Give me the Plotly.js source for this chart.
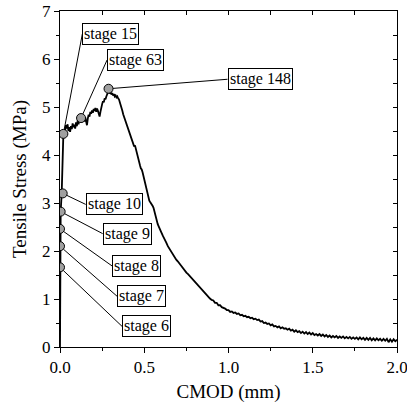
<!DOCTYPE html>
<html>
<head>
<meta charset="utf-8">
<script src="https://cdn.plot.ly/plotly-3.0.1.min.js"></script>
<style>html,body{margin:0;padding:0;background:#fff;}#chart{width:407px;height:404px;}</style>
</head>
<body>
<div id="chart"></div>
<script>
// ---- data ----
const cmod = [
 0,0.001,0.001,0.001,0.002,0.004,0.010,0.014,0.016,0.018,0.020,
 0.025,0.030,0.035,0.040,0.045,0.050,0.055,0.060,0.065,0.070,0.075,0.080,0.085,0.090,0.095,
 0.100,0.105,0.110,0.115,0.120,0.125,0.130,0.135,0.140,0.145,0.150,0.155,0.160,0.165,0.170,
 0.175,0.180,0.185,0.190,0.195,0.200,0.205,0.210,0.215,0.220,0.225,0.230,0.235,0.240,0.245,
 0.250,0.255,0.260,0.265,0.270,0.275,0.280,0.285,0.290,0.295,0.300,0.305,0.310,0.315,0.320,
 0.325,0.330,0.335,0.340,0.345,0.350,0.355,0.360,0.365,0.370,0.375,0.380,0.385,0.390,0.395,
 0.400,0.405,0.410,0.415,0.420,0.425,0.430,0.435,0.440,0.445,0.450,0.455,0.460,0.465,0.470,
 0.475,0.480,0.485,0.490,0.495,0.500,0.505,0.510,0.515,0.520,0.525,0.530,0.535,0.540,0.545,
 0.550,0.555,0.560,0.565,0.570,0.575,0.580,0.585,0.590,0.595,0.600,0.610,0.620,0.630,0.640,
 0.650,0.660,0.670,0.680,0.690,0.700,0.710,0.720,0.730,0.740,0.750,0.760,0.770,0.780,0.790,
 0.800,0.810,0.820,0.830,0.840,0.850,0.860,0.870,0.880,0.890,
 0.90,0.91,0.92,0.93,0.94,0.95,0.96,0.97,0.98,0.99,
 1.00,1.01,1.02,1.03,1.04,1.05,1.06,1.07,1.08,1.09,
 1.10,1.11,1.12,1.13,1.14,1.15,1.16,1.17,1.18,1.19,
 1.20,1.21,1.22,1.23,1.24,1.25,1.26,1.27,1.28,1.29,
 1.30,1.31,1.32,1.33,1.34,1.35,1.36,1.37,1.38,1.39,
 1.40,1.41,1.42,1.43,1.44,1.45,1.46,1.47,1.48,1.49,
 1.50,1.51,1.52,1.53,1.54,1.55,1.56,1.57,1.58,1.59,
 1.60,1.61,1.62,1.63,1.64,1.65,1.66,1.67,1.68,1.69,
 1.70,1.71,1.72,1.73,1.74,1.75,1.76,1.77,1.78,1.79,
 1.80,1.81,1.82,1.83,1.84,1.85,1.86,1.87,1.88,1.89,
 1.90,1.91,1.92,1.93,1.94,1.95,1.96,1.97,1.98,1.99,2.00
];
const stress = [
 0,1.00,1.66,2.10,2.46,2.82,3.20,3.60,4.10,4.30,4.44,
 4.38,4.52,4.62,4.55,4.64,4.50,4.58,4.48,4.60,4.54,4.66,4.58,4.63,4.55,4.68,
 4.60,4.72,4.64,4.75,4.70,4.77,4.68,4.80,4.74,4.70,4.78,4.66,4.62,4.76,4.84,
 4.80,4.90,4.86,4.93,4.88,4.96,4.92,4.98,4.90,4.97,4.92,4.85,4.80,4.90,5.02,
 5.06,5.12,5.10,5.18,5.16,5.22,5.26,5.30,5.35,5.28,5.32,5.26,5.29,5.24,5.27,
 5.22,5.24,5.20,5.22,5.18,5.16,5.10,5.05,5.00,4.92,4.85,4.80,4.74,4.68,4.62,
 4.58,4.52,4.48,4.44,4.40,4.36,4.30,4.24,4.18,4.20,4.12,4.04,3.96,3.90,3.84,
 3.78,3.72,3.70,3.64,3.56,3.48,3.40,3.32,3.24,3.16,3.10,3.05,3.02,3.00,2.97,
 2.94,2.90,2.82,2.74,2.66,2.60,2.56,2.52,2.49,2.46,2.40,2.32,2.26,2.18,2.10,
 2.04,1.97,1.91,1.86,1.82,1.78,1.73,1.68,1.63,1.59,1.55,1.52,1.48,1.44,1.40,
 1.35,1.31,1.27,1.23,1.20,1.15,1.11,1.07,1.04,1.01,
 0.98,0.97,0.92,0.92,0.87,0.87,0.83,0.82,0.80,0.77,
 0.77,0.73,0.74,0.71,0.72,0.69,0.70,0.66,0.67,0.64,
 0.65,0.62,0.63,0.60,0.61,0.58,0.59,0.56,0.57,0.53,
 0.54,0.50,0.51,0.48,0.49,0.45,0.47,0.43,0.44,0.41,
 0.43,0.39,0.41,0.38,0.39,0.36,0.38,0.34,0.36,0.32,
 0.35,0.31,0.33,0.29,0.32,0.28,0.31,0.27,0.30,0.26,
 0.29,0.25,0.27,0.24,0.27,0.23,0.26,0.22,0.25,0.21,
 0.24,0.20,0.23,0.20,0.23,0.19,0.22,0.19,0.22,0.18,
 0.21,0.18,0.21,0.17,0.20,0.17,0.20,0.16,0.20,0.16,
 0.19,0.15,0.19,0.15,0.19,0.14,0.18,0.14,0.18,0.14,
 0.17,0.13,0.17,0.13,0.17,0.10,0.16,0.11,0.16,0.12,0.15
];
const stageLabels = ["stage 6","stage 7","stage 8","stage 9","stage 10","stage 15","stage 63","stage 148"];
const stageX = [0.0, 0.0, 0.0, 0.004, 0.016, 0.020, 0.125, 0.288];
const stageY = [1.66, 2.10, 2.46, 2.82, 3.20, 4.44, 4.77, 5.38];

// ---- label box offsets (pixels, layout only) ----
const labelOffsets = [[62,59],[57,50],[52,37],[42,22],[23,11],[19,-100],[26,-58],[119,-9.5]];

const FONT = "Liberation Serif";

const traces = [
  {x: cmod, y: stress, type: 'scatter', mode: 'lines',
   line: {color: '#000', width: 1.8}, hoverinfo: 'skip', showlegend: false},
  {x: stageX, y: stageY, type: 'scatter', mode: 'markers',
   marker: {size: 9, color: '#a0a0a0', line: {color: '#000', width: 1}},
   showlegend: false},
  {x: [], y: [], xaxis: 'x2', yaxis: 'y2', type: 'scatter', showlegend: false}
];

const annotations = stageLabels.map((t, i) => ({
  x: stageX[i], y: stageY[i], xref: 'x', yref: 'y',
  text: t, showarrow: true, arrowhead: 0, arrowwidth: 1, arrowcolor: '#000',
  standoff: 4.5,
  ax: labelOffsets[i][0], ay: labelOffsets[i][1],
  xanchor: 'left', yanchor: 'middle',
  bordercolor: '#000', borderwidth: 1, borderpad: 1, bgcolor: '#fff',
  font: {family: FONT, size: 16, color: '#000'}
}));

const layout = {
  width: 407, height: 404,
  margin: {l: 60, r: 10, t: 11, b: 57},
  paper_bgcolor: '#fff', plot_bgcolor: '#fff',
  font: {family: FONT, color: '#000'},
  showlegend: false,
  xaxis: {
    range: [0, 2], dtick: 0.5, tick0: 0, tickformat: '.1f',
    ticks: 'outside', ticklen: 5, tickwidth: 1, tickcolor: '#000',
    minor: {dtick: 0.25, ticks: 'outside', ticklen: 3, tickwidth: 1, tickcolor: '#000'},
    showline: true, linecolor: '#000', linewidth: 1,
    showgrid: false, zeroline: false, ticklabeloverflow: 'allow',
    tickfont: {family: FONT, size: 17, color: '#000'},
    title: {text: 'CMOD (mm)', font: {family: FONT, size: 19, color: '#000'}, standoff: 8}
  },
  yaxis: {
    range: [0, 7], dtick: 1, tick0: 0,
    ticks: 'outside', ticklen: 5, tickwidth: 1, tickcolor: '#000',
    minor: {dtick: 0.5, ticks: 'outside', ticklen: 3, tickwidth: 1, tickcolor: '#000'},
    showline: true, linecolor: '#000', linewidth: 1,
    showgrid: false, zeroline: false, ticklabeloverflow: 'allow',
    tickfont: {family: FONT, size: 17, color: '#000'},
    title: {text: 'Tensile Stress (MPa)', font: {family: FONT, size: 19, color: '#000'}, standoff: 10}
  },
  xaxis2: {
    overlaying: 'x', side: 'top', anchor: 'y2', range: [0, 2], dtick: 0.5, tick0: 0,
    ticks: 'inside', ticklen: 4, tickwidth: 1, tickcolor: '#000',
    minor: {dtick: 0.25, ticks: 'inside', ticklen: 4, tickwidth: 1, tickcolor: '#000'},
    showline: true, linecolor: '#000', linewidth: 1,
    showticklabels: false, showgrid: false, zeroline: false
  },
  yaxis2: {
    overlaying: 'y', side: 'right', anchor: 'x2', range: [0, 7], dtick: 1, tick0: 0,
    ticks: 'inside', ticklen: 4, tickwidth: 1, tickcolor: '#000',
    minor: {dtick: 0.5, ticks: 'inside', ticklen: 4, tickwidth: 1, tickcolor: '#000'},
    showline: true, linecolor: '#000', linewidth: 1,
    showticklabels: false, showgrid: false, zeroline: false
  },
  annotations: annotations
};

Plotly.newPlot('chart', traces, layout, {displayModeBar: false, staticPlot: true});
</script>
</body>
</html>
